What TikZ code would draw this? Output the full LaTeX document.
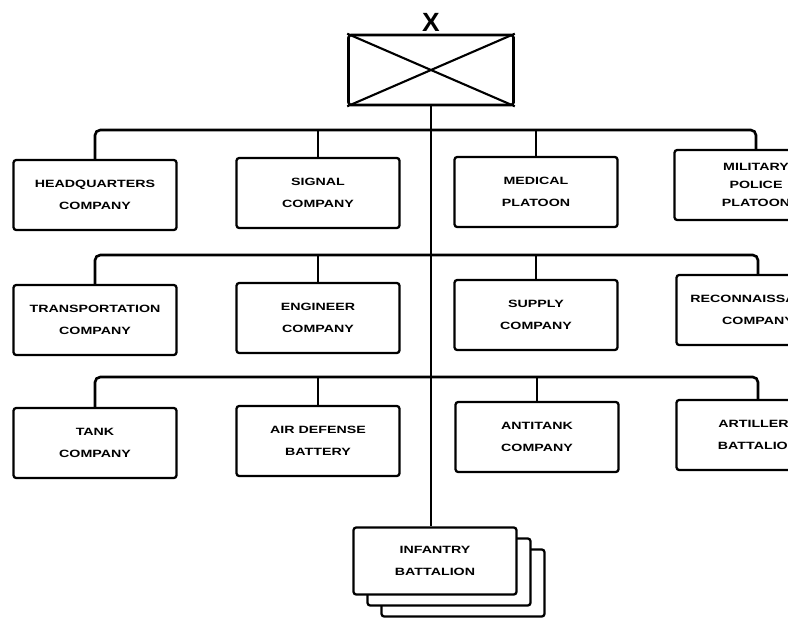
\documentclass[tikz,border=0pt]{standalone}
\usepackage{fontspec}
\newfontfamily\orgfont[FakeStretch=1.35]{Liberation Sans}
\newfontfamily\markfont{Liberation Sans}
\usetikzlibrary{positioning}

\begin{document}
\begin{tikzpicture}[x=0.02cm, y=-0.02cm,
    unit/.style={draw, line width=1.3pt, rounded corners=1.5pt, fill=white, minimum width=3.26cm,
      minimum height=1.4cm, inner sep=0pt, align=center, font=\orgfont\bfseries\fontsize{6}{12.3}\selectfont},
    bus/.style={line width=1.5pt, rounded corners=3pt},
    drop/.style={line width=1pt}
  ]
  \useasboundingbox (0,0) rectangle (788,619);
  \clip (0,0) rectangle (788,619);

  % brigade headquarters
  \node[unit, minimum width=3.3cm, line width=1.5pt] (top) at (431,70) {};
  \draw[line width=1.2pt] (top.north west) -- (top.south east) (top.north east) -- (top.south west);
  \node[font=\markfont\bfseries\fontsize{15}{15}\selectfont, above=0pt of top, inner sep=1pt] (xmark) {X};

  % first row
  \node[unit] (hq) at (95,195) {HEADQUARTERS\\COMPANY};
  \node[unit] (signal) at (318,193) {SIGNAL\\COMPANY};
  \node[unit] (medical) at (536,192) {MEDICAL\\PLATOON};
  \node[unit, font=\orgfont\bfseries\fontsize{6}{10.3}\selectfont] (mp) at (756,185) {MILITARY\\POLICE\\PLATOON};

  % second row
  \node[unit] (transport) at (95,320) {TRANSPORTATION\\COMPANY};
  \node[unit] (engineer) at (318,318) {ENGINEER\\COMPANY};
  \node[unit] (supply) at (536,315) {SUPPLY\\COMPANY};
  \node[unit] (recon) at (758,310) {RECONNAISSANCE\\COMPANY};

  % third row
  \node[unit] (tank) at (95,443) {TANK\\COMPANY};
  \node[unit] (airdef) at (318,441) {AIR DEFENSE\\BATTERY};
  \node[unit] (antitank) at (537,437) {ANTITANK\\COMPANY};
  \node[unit] (artillery) at (758,435) {ARTILLERY\\BATTALION};

  % infantry battalions
  \node[unit, minimum height=1.34cm] (inf3) at (463,583) {};
  \node[unit, minimum height=1.34cm] (inf2) at (449,572) {};
  \node[unit, minimum height=1.34cm] (inf) at (435,561) {INFANTRY\\BATTALION};

  \coordinate (busA) at (431,130);
  \coordinate (busB) at (431,255);
  \coordinate (busC) at (431,377);

  \draw[drop] (top.south) -- (top.south |- inf.north);

  \draw[bus] (hq.north) |- (busA) -| (mp.north);
  \draw[drop] (signal.north) -- (signal.north |- busA);
  \draw[drop] (medical.north) -- (medical.north |- busA);

  \draw[bus] (transport.north) |- (busB) -| (recon.north);
  \draw[drop] (engineer.north) -- (engineer.north |- busB);
  \draw[drop] (supply.north) -- (supply.north |- busB);

  \draw[bus] (tank.north) |- (busC) -| (artillery.north);
  \draw[drop] (airdef.north) -- (airdef.north |- busC);
  \draw[drop] (antitank.north) -- (antitank.north |- busC);
\end{tikzpicture}
\end{document}
